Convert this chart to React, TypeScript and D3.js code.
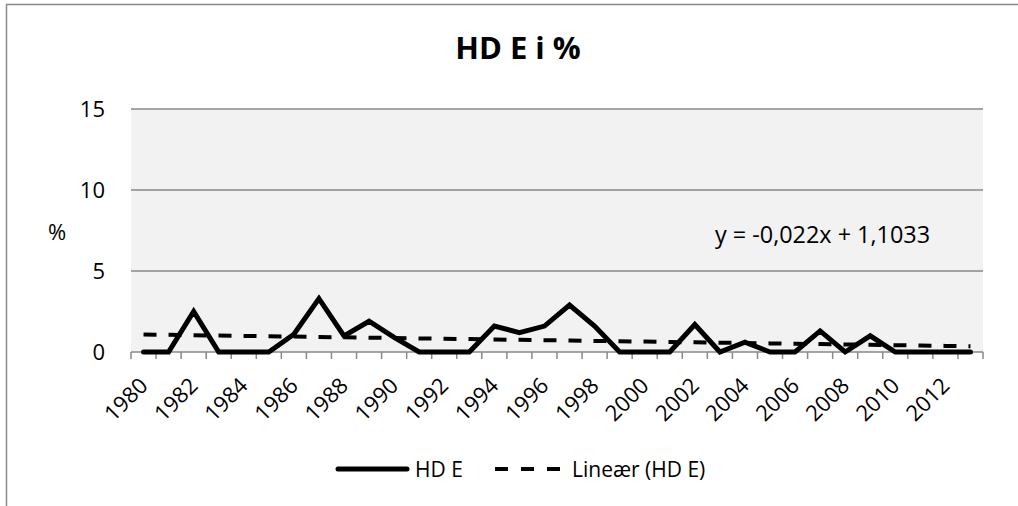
import React from "react";
import * as d3 from "d3";

const years: number[] = [
  1980, 1981, 1982, 1983, 1984, 1985, 1986, 1987, 1988, 1989, 1990, 1991,
  1992, 1993, 1994, 1995, 1996, 1997, 1998, 1999, 2000, 2001, 2002, 2003,
  2004, 2005, 2006, 2007, 2008, 2009, 2010, 2011, 2012, 2013,
];
const hdE: number[] = [
  0, 0, 2.5, 0, 0, 0, 1.1, 3.3, 1.0, 1.9, 0.9, 0,
  0, 0, 1.6, 1.2, 1.6, 2.9, 1.6, 0, 0, 0, 1.7, 0,
  0.6, 0, 0, 1.3, 0, 1.0, 0, 0, 0, 0,
];
const yTicks: number[] = [0, 5, 10, 15];
const trendSlope = -0.022;
const trendIntercept = 1.1033;
const titleText = "HD E i %";
const yAxisLabel = "%";
const equationText = "y = -0,022x + 1,1033";
const legendLabels: string[] = ["HD E", "Lineær (HD E)"];

const FONT = "'Open Sans', 'Noto Sans', sans-serif";

export default function App() {
  const W = 1018;
  const H = 506;
  const plot = { left: 131, right: 983, top: 109, bottom: 352 };

  const x = d3
    .scaleBand<number>()
    .domain(years)
    .range([plot.left, plot.right])
    .padding(0);
  const cx = (yr: number) => (x(yr) as number) + x.bandwidth() / 2;
  const y = d3.scaleLinear().domain([0, 15]).range([plot.bottom, plot.top]);

  const line = d3
    .line<number>()
    .x((_, i) => cx(years[i]))
    .y((d) => y(d));

  const trendPts = years.map(
    (yr, i) => [cx(yr), y(trendSlope * (i + 1) + trendIntercept)] as [number, number]
  );
  const trendLine = d3.line()(trendPts) as string;

  const tickXs = years.map((yr) => x(yr) as number).concat([plot.right]);
  const grid = "#898989";

  return (
    <svg
      width={W}
      height={H}
      style={{ position: "absolute", left: 0, top: 0, background: "#fff" }}
      fontFamily={FONT}
    >
      <rect x={6.5} y={4.5} width={1200} height={700} fill="#fff" stroke="#8a8a8a" strokeWidth={1.5} />
      <text x={518} y={59} textAnchor="middle" fontSize={31} fontWeight="bold" fill="#000">
        {titleText}
      </text>

      <rect
        x={plot.left}
        y={plot.top}
        width={plot.right - plot.left}
        height={plot.bottom - plot.top}
        fill="#f2f2f2"
      />
      {yTicks.map((t) => (
        <g key={t}>
          <line x1={plot.left} x2={plot.right} y1={y(t)} y2={y(t)} stroke={grid} strokeWidth={1.5} />
          <text x={105} y={y(t)} dy="0.36em" textAnchor="end" fontSize={22} fill="#000">
            {t}
          </text>
        </g>
      ))}
      {tickXs.map((tx, i) => (
        <line key={i} x1={tx} x2={tx} y1={plot.bottom} y2={plot.bottom + 7} stroke={grid} strokeWidth={1.5} />
      ))}
      {years.map((yr) =>
        yr % 2 === 0 ? (
          <text
            key={yr}
            transform={`translate(${cx(yr) + 5.5},${387}) rotate(-45)`}
            textAnchor="end"
            fontSize={22}
            fill="#000"
          >
            {yr}
          </text>
        ) : null
      )}
      <text x={57} y={232} dy="0.36em" textAnchor="middle" fontSize={22} fill="#000">
        {yAxisLabel}
      </text>

      <path d={trendLine} fill="none" stroke="#000" strokeWidth={4} strokeDasharray="13 12" />
      <path
        d={line(hdE) as string}
        fill="none"
        stroke="#000"
        strokeWidth={5}
        strokeLinejoin="miter"
        strokeLinecap="round"
      />
      <text x={715} y={243} fontSize={23.4} fill="#000">
        {equationText}
      </text>

      <line x1={338} x2={407} y1={469} y2={469} stroke="#000" strokeWidth={5} strokeLinecap="round" />
      <text x={415} y={469} dy="0.36em" fontSize={21} fill="#000">
        {legendLabels[0]}
      </text>
      <line x1={495} x2={560} y1={469} y2={469} stroke="#000" strokeWidth={4} strokeDasharray="13 13" />
      <text x={572} y={469} dy="0.36em" fontSize={21} fill="#000">
        {legendLabels[1]}
      </text>
    </svg>
  );
}
